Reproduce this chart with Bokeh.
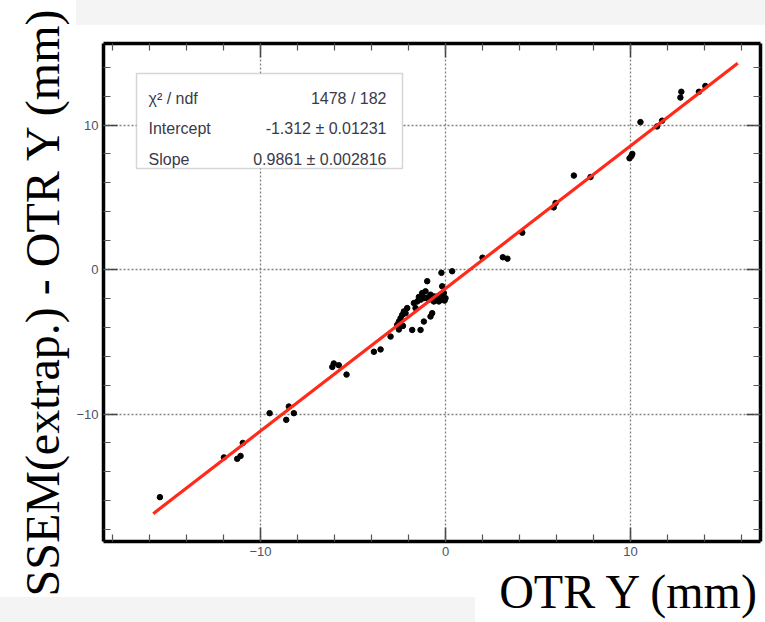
import math
from bokeh.plotting import figure
from bokeh.models import Range1d, LinearAxis, SingleIntervalTicker, Label, BoxAnnotation, Title
from bokeh.embed import file_html
from bokeh.resources import INLINE

# ---- data ----
otr_y = [
    -15.44, -11.98, -11.26, -11.08, -10.96, -9.51, -8.61, -8.47, -8.20,
    -6.04, -6.12, -5.77, -5.35, -3.87, -3.51, -2.97,
    -2.61, -2.52, -2.43, -2.34, -2.25, -2.16, -2.07, -1.71, -1.53, -1.35,
    -1.26, -1.17, -1.08, -0.90, -0.81, -0.63, -0.63, -0.45, -0.36, -0.27,
    -0.18, -0.09, 0.00, -1.44, -1.00, -0.55, -0.20, -0.05, -1.62,
    -1.80, -1.35, -1.17, -0.81, -0.72, -0.99, -0.18, -0.22, 0.36, -2.52, -2.30,
    2.00, 3.10, 3.35, 4.15, 5.85, 5.95, 6.94, 7.84, 9.95, 10.05, 10.10,
    10.54, 11.44, 11.71, 12.70, 12.75, 13.70, 14.05,
]
ssem_minus_otr = [
    -15.75, -13.00, -13.10, -12.90, -12.00, -9.94, -10.40, -9.48, -9.94,
    -6.50, -6.74, -6.62, -7.27, -5.69, -5.53, -4.64,
    -3.83, -3.60, -3.37, -3.14, -2.90, -3.02, -2.67, -2.32, -2.21, -2.09,
    -1.63, -1.98, -1.51, -2.09, -1.74, -1.86, -2.21, -1.86, -2.21, -1.74,
    -2.09, -1.63, -1.98, -1.90, -1.95, -2.00, -1.85, -2.15, -2.67,
    -4.18, -4.18, -3.60, -3.25, -3.02, -0.81, -1.16, -0.23, -0.12, -4.15, -3.90,
    0.82, 0.85, 0.75, 2.55, 4.30, 4.60, 6.50, 6.40, 7.70, 7.85, 8.00,
    10.20, 9.90, 10.30, 11.90, 12.30, 12.30, 12.70,
]
fit_x_ends = [-15.8, 15.8]
fit_intercept = -1.312
fit_slope = 0.9861
stat_names = ["\u03c7\u00b2 / ndf", "Intercept", "Slope"]
stat_values = ["1478 / 182", "-1.312 \u00b1 0.01231", "0.9861 \u00b1 0.002816"]
x_title = "OTR Y (mm)"
y_title = "SSEM(extrap.) - OTR Y (mm)"

p = figure(width=765, height=622, output_backend="svg", toolbar_location=None,
           x_range=Range1d(-18.49, 17.03), y_range=Range1d(-18.82, 15.64),
           min_border_left=103, min_border_right=5, min_border_top=43,
           min_border_bottom=81, background_fill_color="white",
           border_fill_color=None, outline_line_color=None)
p.styles = {
    "background-color": "white",
    "background-image": "linear-gradient(#f4f4f4, #f4f4f4), linear-gradient(#f4f4f4, #f4f4f4)",
    "background-size": "689px 25px, 475px 25px",
    "background-position": "76px 0px, 0px 597px",
    "background-repeat": "no-repeat",
}

bottom_axis = p.below[0]
left_axis = p.left[0]
top_axis = LinearAxis()
right_axis = LinearAxis()
p.add_layout(top_axis, "above")
p.add_layout(right_axis, "right")

for ax in [bottom_axis, left_axis, top_axis, right_axis]:
    ax.ticker = SingleIntervalTicker(interval=10, num_minor_ticks=5)
    ax.axis_line_width = 3.5
    ax.axis_line_color = "black"
    ax.major_tick_in = 14
    ax.major_tick_out = 0
    ax.minor_tick_in = 7
    ax.minor_tick_out = 0
    ax.major_tick_line_color = "#444444"
    ax.major_tick_line_width = 1.5
    ax.minor_tick_line_color = "#555555"
    ax.minor_tick_line_width = 1.2
    ax.major_label_text_font = "Liberation Sans"
    ax.major_label_text_font_size = "13px"
    ax.major_label_text_color = "#4d5068"
    ax.major_label_standoff = 5

for ax in [top_axis, right_axis]:
    ax.major_label_text_font_size = "0px"
    ax.major_label_standoff = 0

for g in [p.xgrid[0], p.ygrid[0]]:
    g.ticker = SingleIntervalTicker(interval=10)
    g.grid_line_color = "#808080"
    g.grid_line_dash = "2 2"
    g.grid_line_width = 1.3

p.scatter(otr_y, ssem_minus_otr, size=5.5, color="black")
p.line(fit_x_ends, [fit_intercept + fit_slope * v for v in fit_x_ends],
       line_color="#ff2a1a", line_width=3.2)

# stats box
p.add_layout(BoxAnnotation(left=136, right=402, top=73, bottom=168,
                           left_units="canvas", right_units="canvas",
                           top_units="canvas", bottom_units="canvas",
                           fill_color="white", fill_alpha=1,
                           line_color="#777777", line_width=1.5))
rows_y = [98, 128, 159]
for name, val, yy in zip(stat_names, stat_values, rows_y):
    p.add_layout(Label(x=148, y=yy, x_units="canvas", y_units="canvas", text=name,
                       text_font="Liberation Sans", text_font_size="16px",
                       text_color="#3a3a4a", text_baseline="alphabetic"))
    p.add_layout(Label(x=386, y=yy, x_units="canvas", y_units="canvas", text=val,
                       text_font="Liberation Sans", text_font_size="16px",
                       text_color="#3a3a4a", text_align="right",
                       text_baseline="alphabetic"))

p.add_layout(Title(text=y_title, align="left", text_font="Liberation Serif",
                   text_font_size="48px", text_font_style="normal",
                   text_color="black", offset=-55, standoff=9), "left")
p.add_layout(Title(text=x_title, align="right", text_font="Liberation Serif",
                   text_font_size="48px", text_font_style="normal",
                   text_color="black", offset=0, standoff=8), "below")

open("out.html", "w").write(file_html(p, INLINE))
